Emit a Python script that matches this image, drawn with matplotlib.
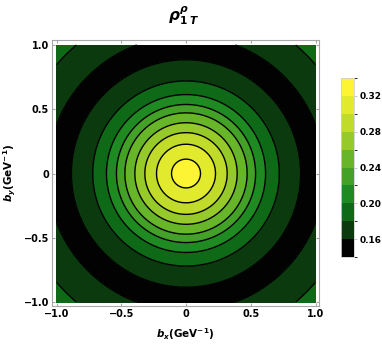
import numpy as np
import matplotlib
matplotlib.use("Agg")
import matplotlib.pyplot as plt
from matplotlib.colors import ListedColormap, BoundaryNorm

# radial profile (radius in GeV^-1 -> value)
radius = [0.0, 0.112, 0.228, 0.318, 0.395, 0.472, 0.537, 0.614, 0.720, 0.885, 0.97, 1.07, 1.31, 1.45]
value = [0.336, 0.32, 0.30, 0.28, 0.26, 0.24, 0.22, 0.20, 0.18, 0.16, 0.149, 0.16, 0.18, 0.19]

levels = [0.14, 0.16, 0.18, 0.20, 0.22, 0.24, 0.26, 0.28, 0.30, 0.32, 0.34]
band_colors = ["#020202", "#0c3a0f", "#0e6a17", "#1f8a22", "#43a127",
               "#67b62a", "#96c92a", "#c0db2a", "#e2ea2e", "#fdf433"]
cbar_ticks = [0.16, 0.20, 0.24, 0.28, 0.32]
axis_ticks = [-1.0, -0.5, 0, 0.5, 1.0]
axis_ticklabels = ["\u22121.0", "\u22120.5", "0", "0.5", "1.0"]

plt.rcParams['font.family'] = 'DejaVu Sans'
plt.rcParams['mathtext.fontset'] = 'dejavusans'

fig = plt.figure(figsize=(3.82, 3.51), dpi=100)
W, H = 382, 351
ax = fig.add_axes([52 / W, 1 - 306 / H, (319 - 52) / W, (306 - 40) / H])

b = np.linspace(-1, 1, 401)
bx, by = np.meshgrid(b, b)
rho = np.interp(np.hypot(bx, by), radius, value)

cmap = ListedColormap(band_colors)
norm = BoundaryNorm(levels, cmap.N)
cf = ax.contourf(bx, by, rho, levels=levels, cmap=cmap, norm=norm)
ax.contour(bx, by, rho, levels=levels[1:-1], colors='black', linewidths=1.0)

ax.set_xlim(-1.035, 1.027)
ax.set_ylim(-1.031, 1.039)

for s in ax.spines.values():
    s.set_color('#a8a8a8')
    s.set_linewidth(0.8)
ax.tick_params(direction='in', length=2.5, color='#a8a8a8', labelsize=7,
               pad=2, top=True, right=True)
ax.set_xticks(axis_ticks)
ax.set_xticklabels(axis_ticklabels, fontweight='bold')
ax.set_yticks(axis_ticks)
ax.set_yticklabels(axis_ticklabels, fontweight='bold')

ax.set_xlabel(r'$\mathbfit{b_x}$(GeV$^{\mathbf{-1}}$)', fontsize=7.5,
              fontweight='bold', labelpad=5)
ax.set_ylabel(r'$\mathbfit{b_y}$(GeV$^{\mathbf{-1}}$)', fontsize=7.5,
              fontweight='bold', labelpad=4)
fig.text(184 / W, 1 - 16 / H,
         r'$\mathbfit{\rho}^{\mathbfit{\rho}}_{\mathbf{1}\ \mathbfit{T}}$',
         ha='center', va='center', fontsize=11)

cax = fig.add_axes([341 / W, 1 - 257 / H, 13 / W, (257 - 78) / H])
cb = fig.colorbar(cf, cax=cax, ticks=cbar_ticks)
cb.outline.set_edgecolor('#d0d0d0')
cb.outline.set_linewidth(0.6)
cax.tick_params(length=2, color='#c8c8c8', labelsize=6.5, pad=2)
cb.set_ticklabels([f"{t:.2f}" for t in cbar_ticks], fontweight='bold')

fig.savefig("out.png", dpi=100)
